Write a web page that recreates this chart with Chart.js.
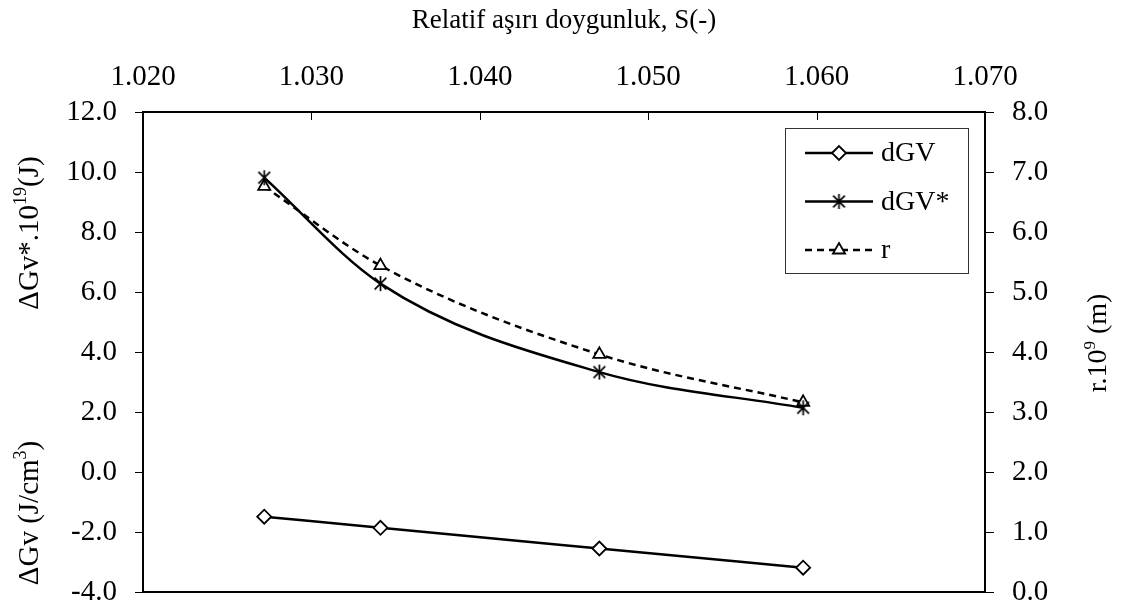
<!DOCTYPE html>
<html>
<head>
<meta charset="utf-8">
<title>Relatif aşırı doygunluk</title>
<script src="https://cdn.jsdelivr.net/npm/chart.js@4.4.1/dist/chart.umd.min.js"></script>
<style>
  html, body { margin: 0; padding: 0; background: #fff; }
  canvas { display: block; }
</style>
</head>
<body>
<canvas id="chart" width="1121" height="607"></canvas>
<script>
// relative supersaturation S(-)
const saturation = [1.0272, 1.0341, 1.0471, 1.0592];
// ΔGv (J/cm3)
const dGV = [-1.49, -1.86, -2.55, -3.19];
// ΔGv*.10^19 (J)
const dGVstar = [9.81, 6.28, 3.33, 2.14];
// r.10^9 (m)
const rCrit = [6.76, 5.44, 3.96, 3.16];

const xTicks = [1.020, 1.030, 1.040, 1.050, 1.060, 1.070];
const leftTicks = [-4, -2, 0, 2, 4, 6, 8, 10, 12];
const rightTicks = [0, 1, 2, 3, 4, 5, 6, 7, 8];

const SERIF = '"Liberation Serif", "Times New Roman", serif';

const points = ys => saturation.map((x, i) => ({ x: x, y: ys[i] }));

// Excel-style asterisk marker: vertical stroke plus an X
function asteriskMarker(size) {
  const c = document.createElement('canvas');
  c.width = c.height = size;
  const g = c.getContext('2d');
  const m = size / 2, r = size / 2 - 1;
  const d = r * 0.78;
  g.strokeStyle = '#000';
  g.lineWidth = 1.7;
  g.beginPath();
  g.moveTo(m, m - r); g.lineTo(m, m + r);
  g.moveTo(m - d, m - d); g.lineTo(m + d, m + d);
  g.moveTo(m + d, m - d); g.lineTo(m - d, m + d);
  g.stroke();
  return c;
}

const setTicks = list => scale => { scale.ticks = list.map(v => ({ value: v })); };

// y axes: fixed width, and no extra label padding above/below the plot
const fixWidth = w => s => { s.width = w; s.paddingTop = 0; s.paddingBottom = 0; };

// tick marks are drawn by the frame plugin
const noGrid = { display: false, drawTicks: false, tickLength: 0 };

// frame around the plot, inner ticks on top axis, outer ticks on the y axes
const frame = {
  id: 'frame',
  afterDatasetsDraw(chart) {
    const { ctx, chartArea: a, scales } = chart;
    ctx.save();
    ctx.strokeStyle = '#000';
    ctx.lineWidth = 1;
    ctx.beginPath();
    scales.x.ticks.forEach(t => {
      const px = Math.round(scales.x.getPixelForValue(t.value)) + 0.5;
      ctx.moveTo(px, a.top); ctx.lineTo(px, a.top + 8);
    });
    scales.y.ticks.forEach(t => {
      const py = Math.round(scales.y.getPixelForValue(t.value)) + 0.5;
      ctx.moveTo(a.left - 8, py); ctx.lineTo(a.left, py);
    });
    scales.y2.ticks.forEach(t => {
      const py = Math.round(scales.y2.getPixelForValue(t.value)) + 0.5;
      ctx.moveTo(a.right, py); ctx.lineTo(a.right + 9, py);
    });
    ctx.stroke();
    ctx.lineWidth = 2;
    ctx.strokeRect(a.left, a.top, a.right - a.left, a.bottom - a.top);
    ctx.restore();
  }
};

// rotated axis titles with superscripts
function rotatedTitle(ctx, parts, cx, cy, base) {
  const sup = Math.round(base * 0.62);
  ctx.save();
  ctx.translate(cx, cy);
  ctx.rotate(-Math.PI / 2);
  ctx.fillStyle = '#000';
  ctx.textBaseline = 'alphabetic';
  ctx.textAlign = 'left';
  let total = 0;
  parts.forEach(p => {
    ctx.font = (p.sup ? sup : base) + 'px ' + SERIF;
    p.w = ctx.measureText(p.t).width;
    total += p.w;
  });
  let x = -total / 2;
  const baseline = Math.round(base / 3);
  parts.forEach(p => {
    ctx.font = (p.sup ? sup : base) + 'px ' + SERIF;
    ctx.fillText(p.t, x, p.sup ? baseline - Math.round(base * 0.4) : baseline);
    x += p.w;
  });
  ctx.restore();
}

const axisTitles = {
  id: 'axisTitles',
  afterDraw(chart) {
    const ctx = chart.ctx;
    rotatedTitle(ctx, [{ t: 'ΔGv*.10' }, { t: '19', sup: true }, { t: '(J)' }], 28, 233, 29);
    rotatedTitle(ctx, [{ t: 'ΔGv (J/cm' }, { t: '3', sup: true }, { t: ')' }], 28, 513, 29);
    rotatedTitle(ctx, [{ t: 'r.10' }, { t: '9', sup: true }, { t: ' (m)' }], 1097, 343, 28);
  }
};

// legend box in the upper right of the plot
const boxLegend = {
  id: 'boxLegend',
  afterDraw(chart) {
    const ctx = chart.ctx;
    ctx.save();
    ctx.fillStyle = '#fff';
    ctx.fillRect(785, 128, 183, 145);
    ctx.strokeStyle = '#333';
    ctx.lineWidth = 1;
    ctx.strokeRect(785.5, 128.5, 183, 145);
    chart.data.datasets.forEach((ds, i) => {
      const y = 153 + i * 48.5;
      ctx.strokeStyle = ds.borderColor;
      ctx.lineWidth = ds.borderWidth;
      ctx.setLineDash(ds.borderDash || []);
      ctx.beginPath();
      ctx.moveTo(805, y); ctx.lineTo(873, y);
      ctx.stroke();
      ctx.setLineDash([]);
      ctx.fillStyle = ds.pointBackgroundColor;
      ctx.strokeStyle = ds.pointBorderColor;
      ctx.lineWidth = ds.pointBorderWidth;
      Chart.helpers.drawPoint(ctx, {
        pointStyle: ds.pointStyle, radius: ds.pointRadius,
        borderWidth: ds.pointBorderWidth, rotation: 0
      }, 839, y);
      ctx.fillStyle = '#000';
      ctx.font = '28px ' + SERIF;
      ctx.textBaseline = 'middle';
      ctx.textAlign = 'left';
      ctx.fillText(ds.label, 881, y + 1);
    });
    ctx.restore();
  }
};

const tickFont = { family: SERIF, size: 29 };

new Chart(document.getElementById('chart').getContext('2d'), {
  type: 'line',
  data: {
    datasets: [{
      label: 'dGV',
      data: points(dGV),
      yAxisID: 'y',
      borderColor: '#000',
      borderWidth: 2.5,
      cubicInterpolationMode: 'monotone',
      pointStyle: 'rectRot',
      pointRadius: 7,
      pointBackgroundColor: '#fff',
      pointBorderColor: '#000',
      pointBorderWidth: 1.8
    }, {
      label: 'dGV*',
      data: points(dGVstar),
      yAxisID: 'y',
      borderColor: '#000',
      borderWidth: 2.5,
      cubicInterpolationMode: 'monotone',
      pointStyle: asteriskMarker(17),
      pointRadius: 7,
      pointBackgroundColor: '#000',
      pointBorderColor: '#000',
      pointBorderWidth: 0
    }, {
      label: 'r',
      data: points(rCrit),
      yAxisID: 'y2',
      borderColor: '#000',
      borderWidth: 2.5,
      borderDash: [7, 5],
      cubicInterpolationMode: 'monotone',
      pointStyle: 'triangle',
      pointRadius: 7,
      pointBackgroundColor: '#fff',
      pointBorderColor: '#000',
      pointBorderWidth: 1.8
    }]
  },
  options: {
    responsive: false,
    animation: false,
    events: [],
    layout: { padding: { top: 0, left: 0, right: 0, bottom: 15 } },
    plugins: { legend: { display: false }, tooltip: { enabled: false } },
    scales: {
      x: {
        type: 'linear',
        position: 'top',
        min: xTicks[0],
        max: xTicks[xTicks.length - 1],
        afterBuildTicks: setTicks(xTicks),
        afterFit: s => { s.height = 112; },
        grid: noGrid,
        border: { display: false },
        ticks: {
          font: tickFont, color: '#000', padding: 17, maxRotation: 0,
          callback: v => v.toFixed(3)
        },
        title: {
          display: true,
          text: 'Relatif aşırı doygunluk, S(-)',
          color: '#000',
          font: { family: SERIF, size: 27 },
          padding: { top: 5, bottom: 0 }
        }
      },
      y: {
        type: 'linear',
        position: 'left',
        min: leftTicks[0],
        max: leftTicks[leftTicks.length - 1],
        afterBuildTicks: setTicks(leftTicks),
        afterFit: fixWidth(143),
        grid: noGrid,
        border: { display: false },
        ticks: { font: tickFont, color: '#000', padding: 26, callback: v => v.toFixed(1) }
      },
      y2: {
        type: 'linear',
        position: 'right',
        min: rightTicks[0],
        max: rightTicks[rightTicks.length - 1],
        afterBuildTicks: setTicks(rightTicks),
        afterFit: fixWidth(136),
        grid: noGrid,
        border: { display: false },
        ticks: { font: tickFont, color: '#000', padding: 27, callback: v => v.toFixed(1) }
      }
    }
  },
  plugins: [frame, axisTitles, boxLegend]
});
</script>
</body>
</html>
